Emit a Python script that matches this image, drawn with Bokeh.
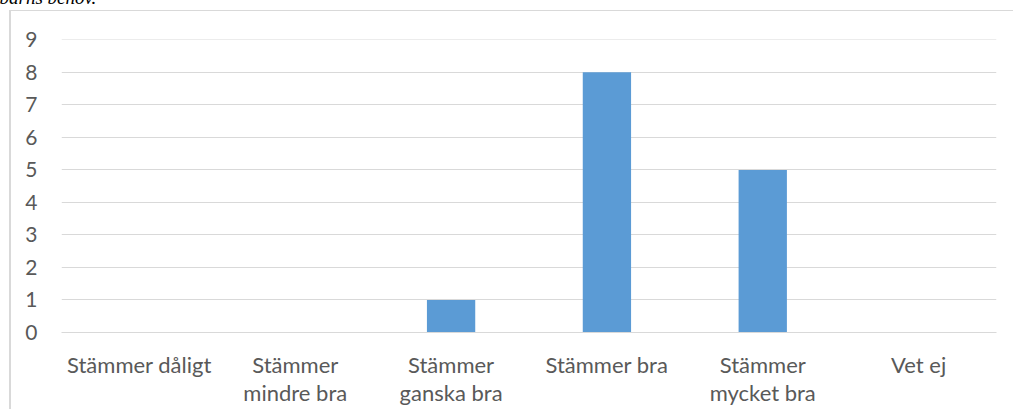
from bokeh.plotting import figure
from bokeh.models import FactorRange
from bokeh.embed import file_html
from bokeh.resources import INLINE

categories = ["Stämmer dåligt", "Stämmer\nmindre bra", "Stämmer\nganska bra",
              "Stämmer bra", "Stämmer\nmycket bra", "Vet ej"]
counts = [0, 0, 1, 8, 5, 0]
y_ticks = [0, 1, 2, 3, 4, 5, 6, 7, 8, 9]
title_fragment = "barns behov."

TOP = 86
p = figure(x_range=FactorRange(*categories), y_range=(0, 9.01),
           frame_width=935, frame_height=293,
           output_backend="svg", toolbar_location=None,
           min_border_left=61, min_border_right=17,
           min_border_top=TOP, min_border_bottom=70,
           background_fill_color=None, border_fill_color=None)
line = "linear-gradient(#d9d9d9, #d9d9d9)"
p.styles = {
    "margin-top": f"{39 - TOP}px",
    "margin-bottom": "-30px",
    "margin-right": "-20px",
    "background": f"{line} no-repeat 9px {TOP - 29}px / 2px 2000px, "
                  f"{line} no-repeat 9px {TOP - 29}px / 2000px 1px, #ffffff",
}
p.outline_line_color = None

# cut-off fragment of the text above the chart
p.title.text = title_fragment
p.title.text_font = "Liberation Serif"
p.title.text_font_style = "italic"
p.title.text_font_size = "19px"
p.title.text_color = "#000000"
p.title.align = "left"
p.title.vertical_align = "bottom"
p.title.offset = -62
p.title.standoff = 63

p.vbar(x=categories, top=counts, width=0.31, color="#5b9bd5", line_color=None)

p.xgrid.grid_line_color = None
p.ygrid.grid_line_color = "#d9d9d9"
p.ygrid.grid_line_width = 1
p.yaxis.ticker = y_ticks
for ax in (p.xaxis, p.yaxis):
    ax.axis_line_color = None
    ax.major_tick_line_color = None
    ax.minor_tick_line_color = None
    ax.major_label_text_font = "Lato"
    ax.major_label_text_color = "#595959"
p.xaxis.major_label_text_font_size = "22px"
p.yaxis.major_label_text_font_size = "21px"
p.xaxis.axis_line_color = "#d9d9d9"
p.xaxis.major_label_standoff = 12
p.xaxis.major_label_text_line_height = 1.06
p.yaxis.major_label_standoff = 18
p.x_range.range_padding = 0

open("out.html", "w").write(file_html(p, INLINE))
